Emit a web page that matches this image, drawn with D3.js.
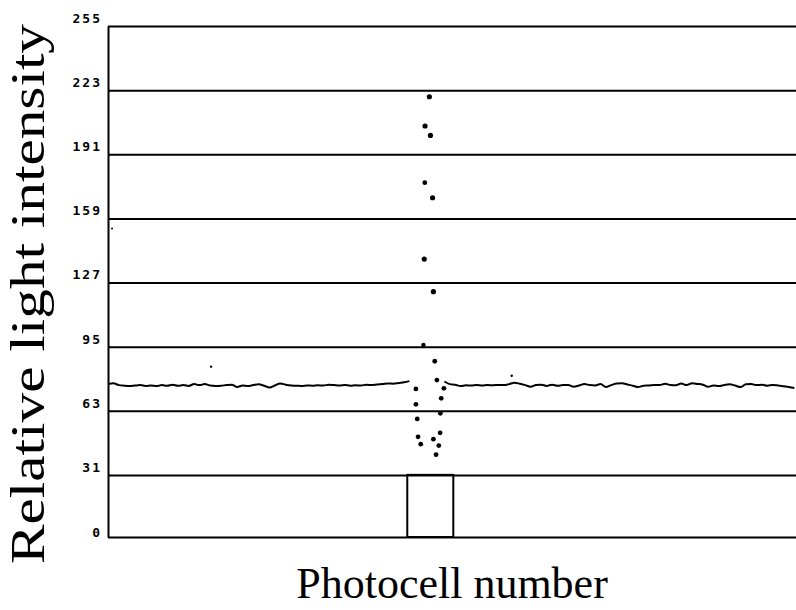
<!DOCTYPE html>
<meta charset="utf-8">
<title>Photocell profile</title>
<style>
body {
  margin: 0;
  background: #fff;
}
.axis text {
  font-family: "DejaVu Sans Mono", monospace;
  font-weight: bold;
  font-size: 13px;
  letter-spacing: 2px;
}
.axis line, .axis path {
  stroke: #000;
  stroke-width: 2px;
}
.title {
  font-family: "Liberation Serif", "Times New Roman", serif;
}
</style>
<body>
<script src="https://d3js.org/d3.v7.min.js"></script>
<script>
var w = 796,
    h = 610;

// intensity ticks on the left axis
var yTicks = [0, 31, 63, 95, 127, 159, 191, 223, 255];

// baseline trace, left of the event (photocells 0..112, step 2)
var leftStart = 0;
var leftTrace = [76.3, 76.7, 75.8, 75.5, 75.3, 75.6, 75.8, 75.4, 75.6, 75.3,
  75.8, 75.5, 76.0, 75.5, 75.8, 75.4, 76.3, 75.8, 76.3, 75.6,
  75.4, 75.5, 75.8, 76.0, 74.9, 75.6, 75.3, 75.8, 76.2, 75.5,
  74.6, 75.6, 76.6, 76.0, 75.6, 75.5, 75.4, 75.6, 75.5, 75.7,
  75.6, 76.0, 75.8, 75.6, 75.9, 75.5, 75.7, 75.6, 76.0, 75.8,
  76.1, 76.3, 76.6, 76.5, 76.9, 77.2, 77.8];

// baseline trace, right of the event (photocells 125..255, step 2)
var rightStart = 125;
var rightTrace = [77.6, 76.3, 76.0, 75.3, 75.7, 75.6, 75.8, 75.6, 75.8, 75.7,
  75.9, 75.8, 76.3, 77.0, 76.5, 75.8, 75.0, 75.8, 76.0, 75.4,
  76.0, 75.5, 75.8, 75.8, 75.0, 75.6, 76.3, 75.8, 75.6, 76.3,
  74.8, 75.8, 76.6, 76.7, 76.1, 75.5, 74.8, 75.5, 75.6, 75.8,
  75.8, 76.5, 75.8, 75.7, 76.6, 75.8, 76.7, 76.4, 76.0, 75.0,
  75.6, 75.3, 75.9, 76.2, 75.6, 74.8, 76.2, 76.3, 75.8, 76.0,
  75.5, 75.9, 75.6, 75.2, 74.8, 74.3];

// scattered readings around the peak: photocell, intensity
var dotCells = [119.4, 117.8, 119.8, 117.7, 120.6, 117.5, 120.9, 117.2, 121.4, 122.2,
  114.4, 124.8, 123.8, 114.4, 123.5, 114.9, 123.4, 115.2, 116.2, 120.9,
  122.9, 121.9, 38.3, 150.0, 1.5];
var dotValues = [219.7, 205.1, 200.4, 176.8, 169.3, 138.7, 122.4, 95.8, 87.7, 78.3,
  73.9, 74.2, 69.2, 66.2, 61.7, 58.9, 52.0, 50.0, 46.3, 48.8,
  45.6, 41.1, 85.0, 80.5, 154.0];
var dotSizes = [2.6, 2.6, 2.6, 2.4, 2.6, 2.6, 2.6, 2.2, 2.4, 2.4,
  2.4, 2.4, 2.4, 2.4, 2.4, 2.4, 2.4, 2.4, 2.4, 2.4,
  2.4, 2.4, 1.2, 1.2, 1.0];

// gate marker: photocells and height
var gate = [111.2, 128.3];
var gateHeight = 31;

var x0 = 108, x1 = 797, yTop = 26, yBot = 537;

var x = d3.scaleLinear().domain([0, 256]).range([x0, x1]);
var y = d3.scaleLinear().domain([0, 255]).range([yBot, yTop]);

var svg = d3.select("body").append("svg")
    .attr("width", w)
    .attr("height", h);

var axis = svg.append("g")
    .attr("class", "axis")
    .attr("transform", "translate(" + x0 + ",0)")
    .call(d3.axisLeft(y)
      .tickValues(yTicks)
      .tickSize(-(x1 - x0))
      .tickSizeOuter(0)
      .tickPadding(6)
      .tickFormat(d3.format("d")));
axis.selectAll("text")
    .attr("dy", function(d) { return d === 0 ? "-0.05em" : "-0.28em"; })
    .attr("fill", "#000");

svg.append("rect")
    .attr("x", x(gate[0]))
    .attr("y", y(gateHeight))
    .attr("width", x(gate[1]) - x(gate[0]))
    .attr("height", y(0) - y(gateHeight))
    .attr("fill", "none")
    .attr("stroke", "#000")
    .attr("stroke-width", 2);

var line = d3.line()
    .x(function(d) { return x(d[0]); })
    .y(function(d) { return y(d[1]); })
    .curve(d3.curveMonotoneX);

function segment(start, vals) {
  return vals.map(function(v, i) { return [start + i * 2, v]; });
}

svg.selectAll("path.trace")
    .data([segment(leftStart, leftTrace), segment(rightStart, rightTrace)])
  .enter().append("path")
    .attr("class", "trace")
    .attr("d", line)
    .attr("fill", "none")
    .attr("stroke", "#000")
    .attr("stroke-width", 2);

svg.selectAll("circle")
    .data(dotCells)
  .enter().append("circle")
    .attr("cx", function(d) { return x(d); })
    .attr("cy", function(d, i) { return y(dotValues[i]); })
    .attr("r", function(d, i) { return dotSizes[i]; })
    .attr("fill", "#000");

svg.append("text")
    .attr("class", "title")
    .attr("x", 452)
    .attr("y", 598)
    .attr("text-anchor", "middle")
    .attr("font-size", 44)
    .text("Photocell number");

svg.append("text")
    .attr("class", "title")
    .attr("transform", "translate(44,294)rotate(-90)")
    .attr("text-anchor", "middle")
    .attr("font-size", 48)
    .attr("textLength", 540)
    .attr("lengthAdjust", "spacingAndGlyphs")
    .text("Relative light intensity");
</script>
